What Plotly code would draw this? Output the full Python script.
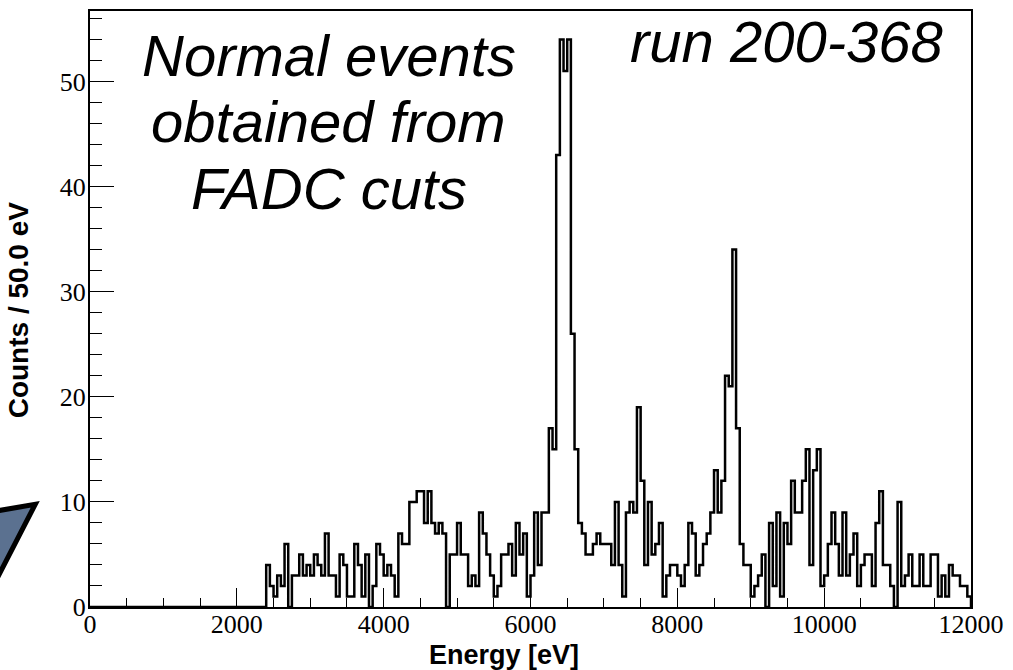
import numpy as np
import plotly.graph_objects as go

# ---- data -------------------------------------------------------------
bin_width = 50.0          # eV
x_min, x_max = 0.0, 12000.0
y_max = 56.7

# counts per 50 eV bin, bins 0..239 (0 - 12000 eV)
counts = [
    # 0 - 2400 eV
    0, 0, 0, 0, 0, 0, 0, 0, 0, 0, 0, 0, 0, 0, 0, 0,
    0, 0, 0, 0, 0, 0, 0, 0, 0, 0, 0, 0, 0, 0, 0, 0,
    0, 0, 0, 0, 0, 0, 0, 0, 0, 0, 0, 0, 0, 0, 0, 0,
    # 2400 -
    4, 2, 1, 3, 2, 6, 0, 3, 3, 5, 3, 4, 3, 5, 4, 3,
    7, 3, 3, 1, 5, 4, 1, 1, 6, 4, 1, 5, 0, 2, 6,
    # 3950 -
    5, 3, 4, 3, 1, 7, 6, 6, 10, 10, 11, 11, 8, 11, 8, 7,
    8, 7, 0, 5, 5, 8, 5, 5, 2, 3, 2, 9, 7, 5, 3, 1, 2,
    # 5600 -
    5, 5, 6, 3, 8, 5, 7, 1, 3, 9, 4, 9, 9, 17, 15, 43,
    54, 51, 54, 26, 15, 8, 7, 5,
    # 6800 -
    5, 6, 7, 6, 6, 6, 4, 10, 4, 1, 9, 10, 9, 19, 12, 4,
    10, 5, 6, 8, 1, 3, 4, 4, 3, 2, 4, 8, 7, 3, 4, 6, 7, 9,
    # 8500 -
    13, 9, 12, 22, 21, 34, 17, 6, 4, 4, 1, 2, 3, 5, 0, 8,
    2, 9, 1, 8, 6, 12, 9, 9, 12, 15, 4, 13, 15, 2, 3,
    # 10050 -
    6, 9, 6, 3, 9, 3, 5, 7, 2, 4, 5, 5, 2, 8, 11, 4,
    4, 2, 0, 10, 2, 3, 5, 2, 2, 5, 2, 2, 5, 5, 1, 3,
    1, 4, 3, 3, 2, 2, 1,
]

x_ticks = [0, 2000, 4000, 6000, 8000, 10000, 12000]
y_ticks = [0, 10, 20, 30, 40, 50]

x_title = "Energy [eV]"
y_title = "Counts / 50.0 eV"
label_lines = ["Normal events", "obtained from", "FADC cuts"]
run_label = "run 200-368"

# ---- build step outline -------------------------------------------------
counts_arr = np.array(counts, dtype=float)
edges = x_min + bin_width * np.arange(len(counts_arr) + 1)
step_x = np.concatenate([[edges[0]], edges[:-1], [edges[-1]], [edges[-1]]])
step_y = np.concatenate([[0.0], counts_arr, [counts_arr[-1]], [0.0]])

W, H = 1013, 670
ML, MR, MT, MB = 90, 38, 9, 63
PW, PH = W - ML - MR, H - MT - MB


def px(xp):
    return (xp - ML) / PW


def py(yp):
    return (H - MB - yp) / PH


fig = go.Figure()
fig.add_trace(go.Scatter(
    x=step_x, y=step_y, mode="lines",
    line=dict(color="black", width=2.5, shape="hv"),
    hoverinfo="skip", showlegend=False,
))

serif = "Liberation Serif"
sans = "Liberation Sans"

fig.update_layout(
    width=W, height=H,
    margin=dict(l=ML, r=MR, t=MT, b=MB, pad=0),
    paper_bgcolor="white", plot_bgcolor="white",
    showlegend=False,
    xaxis=dict(
        range=[x_min, x_max], tickvals=x_ticks,
        ticktext=[str(v) for v in x_ticks],
        ticks="inside", ticklen=19, tickwidth=1.2, tickcolor="black",
        minor=dict(dtick=500, ticks="inside", ticklen=9, tickwidth=1.2,
                   tickcolor="black", showgrid=False),
        showline=True, linecolor="black", linewidth=2, mirror=True,
        showgrid=False, zeroline=False,
        tickfont=dict(family=serif, size=26, color="black"),
        ticklabelstandoff=-7,
    ),
    yaxis=dict(
        range=[0, y_max], tickvals=y_ticks,
        ticktext=[str(v) for v in y_ticks],
        ticks="inside", ticklen=24, tickwidth=1.2, tickcolor="black",
        minor=dict(dtick=2, ticks="inside", ticklen=12, tickwidth=1.2,
                   tickcolor="black", showgrid=False),
        showline=True, linecolor="black", linewidth=2, mirror=True,
        showgrid=False, zeroline=False,
        tickfont=dict(family=serif, size=26, color="black"),
        ticklabelstandoff=-3,
    ),
)

annotations = [
    dict(text="<b>%s</b>" % x_title, x=px(506), y=py(655), xref="paper", yref="paper",
         xanchor="center", yanchor="middle", showarrow=False,
         font=dict(family=sans, size=27, color="black")),
    dict(text="<b>%s</b>" % y_title, x=px(19), y=py(309), xref="paper", yref="paper",
         xanchor="center", yanchor="middle", showarrow=False, textangle=-90,
         font=dict(family=sans, size=28, color="black")),
    dict(text="<i>%s</i>" % run_label, x=px(790), y=py(40), xref="paper", yref="paper",
         xanchor="center", yanchor="middle", showarrow=False,
         font=dict(family=sans, size=58, color="black")),
]
for line, yc in zip(label_lines, [54, 120, 187]):
    annotations.append(dict(
        text="<i>%s</i>" % line, x=px(330), y=py(yc), xref="paper", yref="paper",
        xanchor="center", yanchor="middle", showarrow=False,
        font=dict(family=sans, size=58, color="black")))
fig.update_layout(annotations=annotations)

# decorative arrow fragment at lower left (partly outside the canvas)
path = "M %f,%f L %f,%f L %f,%f Z" % (px(-12), py(512), px(35), py(504), px(-12), py(595))
fig.add_shape(type="path", path=path, xref="paper", yref="paper",
              fillcolor="#5b7190", line=dict(color="black", width=5), layer="above")

fig.write_html("out.html")
